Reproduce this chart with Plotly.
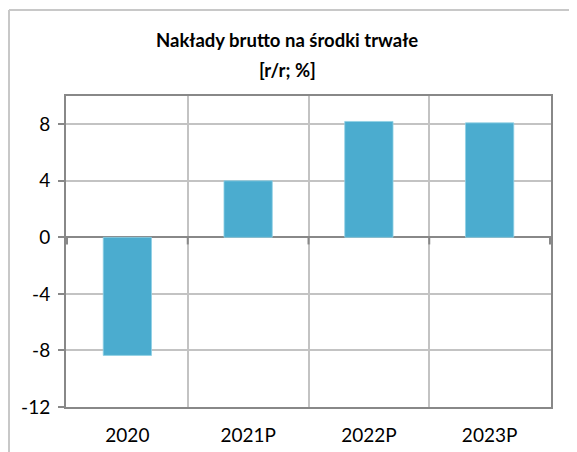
import plotly.graph_objects as go

categories = ["2020", "2021P", "2022P", "2023P"]
values = [-8.35, 4.0, 8.2, 8.1]
y_ticks = [-12, -8, -4, 0, 4, 8]
title_lines = ["Nakłady brutto na środki trwałe", "[r/r; %]"]

OFF = 8  # browser body margin
W, H = 577 - OFF, 452 - OFF
L, R, T, B = 66 - OFF, 26, 96 - OFF, 45
pw, ph = W - L - R, H - T - B

fig = go.Figure()
fig.add_trace(go.Bar(
    x=categories, y=values, width=0.4,
    marker=dict(color="#4BACCF", line=dict(color="#8fd0e4", width=0.8)),
    hoverinfo="x+y",
))

font_family = "Lato, Carlito, 'Open Sans', sans-serif"

# outer frame (light grey, left and top only visible); left edge as close as the canvas allows
fx = (1 - L) / pw
fy = (H - B - (10 - OFF)) / ph
frame = dict(color="#c8c8c8", width=2)
shapes = [
    dict(type="line", xref="paper", yref="paper", x0=fx, x1=fx, y0=-0.5, y1=fy, line=frame),
    dict(type="line", xref="paper", yref="paper", x0=fx, x1=1.2, y0=fy, y1=fy, line=frame),
]
# small tick marks below the zero line at category boundaries
for i in range(len(categories) + 1):
    shapes.append(dict(type="line", xref="x", yref="y", x0=i - 0.5, x1=i - 0.5,
                       y0=0, y1=-0.5, line=dict(color="#888888", width=2), layer="above"))

annotations = []
for k, line in enumerate(title_lines):
    yc = [40, 70][k] - OFF
    annotations.append(dict(
        text="<b>%s</b>" % line, xref="paper", yref="paper",
        x=(287 - OFF - L) / pw, xanchor="center",
        y=(H - B - yc) / ph, yanchor="middle",
        showarrow=False,
        font=dict(family=font_family, size=18.5, color="#000000"),
    ))

fig.update_layout(
    width=W, height=H,
    margin=dict(l=L, r=R, t=T, b=B),
    paper_bgcolor="white", plot_bgcolor="white",
    showlegend=False,
    bargap=0.6,
    shapes=shapes,
    annotations=annotations,
    font=dict(family=font_family, size=19, color="#000000"),
)

fig.update_xaxes(
    type="category", tickson="boundaries", automargin=False,
    showgrid=True, gridcolor="#c3c3c3", gridwidth=1.5,
    showline=True, mirror=True, linecolor="#888888", linewidth=2,
    ticks="", ticklen=0, ticklabelstandoff=10,
    tickfont=dict(family=font_family, size=19, color="#000000"),
)
fig.update_yaxes(
    range=[-12, 10], tickvals=y_ticks, ticktext=[str(v) for v in y_ticks],
    automargin=False,
    showgrid=True, gridcolor="#c3c3c3", gridwidth=1.5,
    zeroline=True, zerolinecolor="#888888", zerolinewidth=2,
    showline=True, mirror=True, linecolor="#888888", linewidth=2,
    ticks="outside", ticklen=6, tickcolor="#888888", tickwidth=1.5,
    ticklabelstandoff=4,
    tickfont=dict(family=font_family, size=19, color="#000000"),
)

fig.write_html("out.html")
